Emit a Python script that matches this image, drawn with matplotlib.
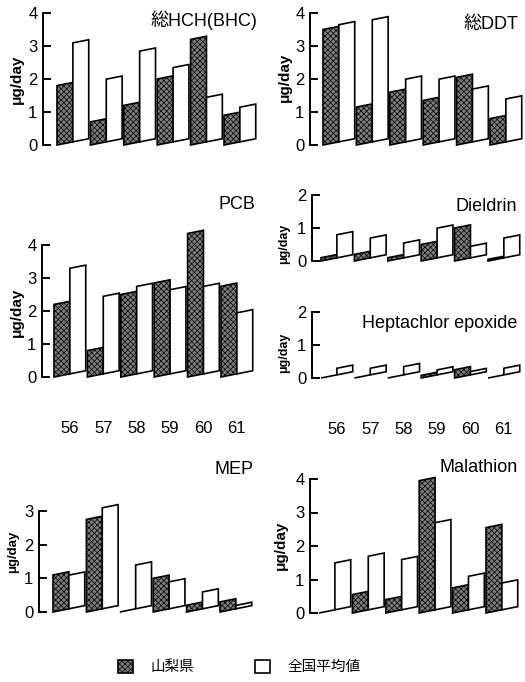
import numpy as np
import matplotlib
matplotlib.use('Agg')
import matplotlib.pyplot as plt
from matplotlib.transforms import Affine2D
from matplotlib.patches import Patch

years = ['56', '57', '58', '59', '60', '61']
hch_yamanashi = [1.8, 0.7, 1.2, 2.0, 3.2, 0.9]
hch_national = [3.0, 1.9, 2.75, 2.25, 1.35, 1.05]
ddt_yamanashi = [3.5, 1.15, 1.6, 1.35, 2.05, 0.8]
ddt_national = [3.55, 3.7, 1.9, 1.9, 1.6, 1.3]
pcb_yamanashi = [2.2, 0.8, 2.5, 2.85, 4.35, 2.75]
pcb_national = [3.2, 2.35, 2.65, 2.55, 2.65, 1.85]
dieldrin_yamanashi = [0.1, 0.2, 0.1, 0.5, 1.0, 0.05]
dieldrin_national = [0.7, 0.6, 0.45, 0.9, 0.35, 0.6]
hepox_yamanashi = [0.0, 0.0, 0.0, 0.08, 0.25, 0.0]
hepox_national = [0.2, 0.2, 0.25, 0.15, 0.1, 0.2]
mep_yamanashi = [1.1, 2.75, 0.0, 1.0, 0.2, 0.3]
mep_national = [1.0, 3.0, 1.3, 0.8, 0.5, 0.1]
malathion_yamanashi = [0.0, 0.55, 0.4, 3.95, 0.75, 2.55]
malathion_national = [1.4, 1.6, 1.5, 2.6, 1.0, 0.8]

label_yamanashi = '山梨県'
label_national = '全国平均値'
unit_label = 'μg/day'

FONT = ['Liberation Sans', 'Noto Sans CJK JP', 'DejaVu Sans']
plt.rcParams['font.family'] = FONT
plt.rcParams['hatch.linewidth'] = 0.5
plt.rcParams['hatch.color'] = '#1a1a1a'

W, H = 525, 682
fig = plt.figure(figsize=(W / 100, H / 100), dpi=100)

PX_UNIT = 33.4   # pixels per group
BAR_W = 0.475
SKEW = 0.2
SHADE = '#7d7d7d'


def fx(px):
    return px / W


def fy(py):
    return 1 - py / H


def panel(spine_px, y0_px, ytop_px, ymax, gstart_px, yam, nat, title, title_xy,
          ylab_xy, ylab_size=11, xlabels=False):
    right_px = spine_px + 222
    left = fx(spine_px)
    bottom = fy(y0_px)
    ax = fig.add_axes([left, bottom, fx(right_px) - left, fy(ytop_px) - bottom])
    x_left = -(gstart_px - spine_px) / PX_UNIT
    x_right = (right_px - gstart_px) / PX_UNIT
    ax.set_xlim(x_left, x_right)
    ax.set_ylim(0, ymax)
    idx = np.arange(len(years))
    b1 = ax.bar(idx, yam, width=BAR_W, align='edge', facecolor=SHADE,
                edgecolor='black', linewidth=1.2, hatch='xxxxxx')
    b2 = ax.bar(idx + BAR_W, nat, width=BAR_W, align='edge', facecolor='white',
                edgecolor='black', linewidth=1.2)
    for i, (p1, p2) in enumerate(zip(b1.patches, b2.patches)):
        sk = Affine2D(np.array([[1, 0, 0], [SKEW, 1, -SKEW * i], [0, 0, 1]]))
        for p in (p1, p2):
            p.set_transform(sk + ax.transData)
            p.set_clip_on(False)
    for s in ('top', 'right', 'bottom'):
        ax.spines[s].set_visible(False)
    ax.spines['left'].set_linewidth(1.4)
    ax.spines['left'].set_bounds(0, ymax)
    ax.set_yticks(range(0, ymax + 1))
    ax.tick_params(axis='y', direction='in', length=6, width=1.4, pad=4,
                   labelsize=12)
    if xlabels:
        ax.set_xticks(idx + BAR_W)
        ax.set_xticklabels(years)
        ax.tick_params(axis='x', length=0, pad=32, labelsize=12)
    else:
        ax.set_xticks([])
    ax.patch.set_alpha(0)
    fig.text(fx(title_xy[0]), fy(title_xy[1]), title, ha='right', va='center',
             fontsize=13, family=FONT)
    fig.text(fx(ylab_xy[0]), fy(ylab_xy[1]), unit_label, rotation=90,
             ha='center', va='center', fontsize=ylab_size, fontweight='bold')
    return ax


panel(43, 145, 13, 4, 57, hch_yamanashi, hch_national, '総HCH(BHC)',
      (257, 20), (17, 79))
panel(310, 145, 13, 4, 323, ddt_yamanashi, ddt_national, '総DDT',
      (518, 25), (285, 77))
panel(42, 377, 245, 4, 54, pcb_yamanashi, pcb_national, 'PCB',
      (255, 205), (17, 312), xlabels=True)
panel(312, 261, 195, 2, 321, dieldrin_yamanashi, dieldrin_national, 'Dieldrin',
      (517, 207), (284, 244), ylab_size=9)
panel(312, 378, 312, 2, 321, hepox_yamanashi, hepox_national,
      'Heptachlor epoxide', (517, 323), (284, 353), ylab_size=9, xlabels=True)
panel(39, 612, 511, 3, 53, mep_yamanashi, mep_national, 'MEP',
      (253, 470), (13, 552), ylab_size=9.5)
panel(310, 613, 479, 4, 319, malathion_yamanashi, malathion_national,
      'Malathion', (518, 468), (281, 545))

handles = [Patch(facecolor=SHADE, edgecolor='black', hatch='xxxxxx', linewidth=1.2),
           Patch(facecolor='white', edgecolor='black', linewidth=1.2)]
fig.legend(handles, [label_yamanashi, label_national], ncol=2, frameon=False,
           loc='center left', bbox_to_anchor=(fx(118), fy(667)),
           borderaxespad=0, borderpad=0, handlelength=1.0, handleheight=1.0,
           handletextpad=1.2, columnspacing=4.2, prop={'family': FONT, 'size': 10.5})

fig.savefig('out.png', dpi=100)
